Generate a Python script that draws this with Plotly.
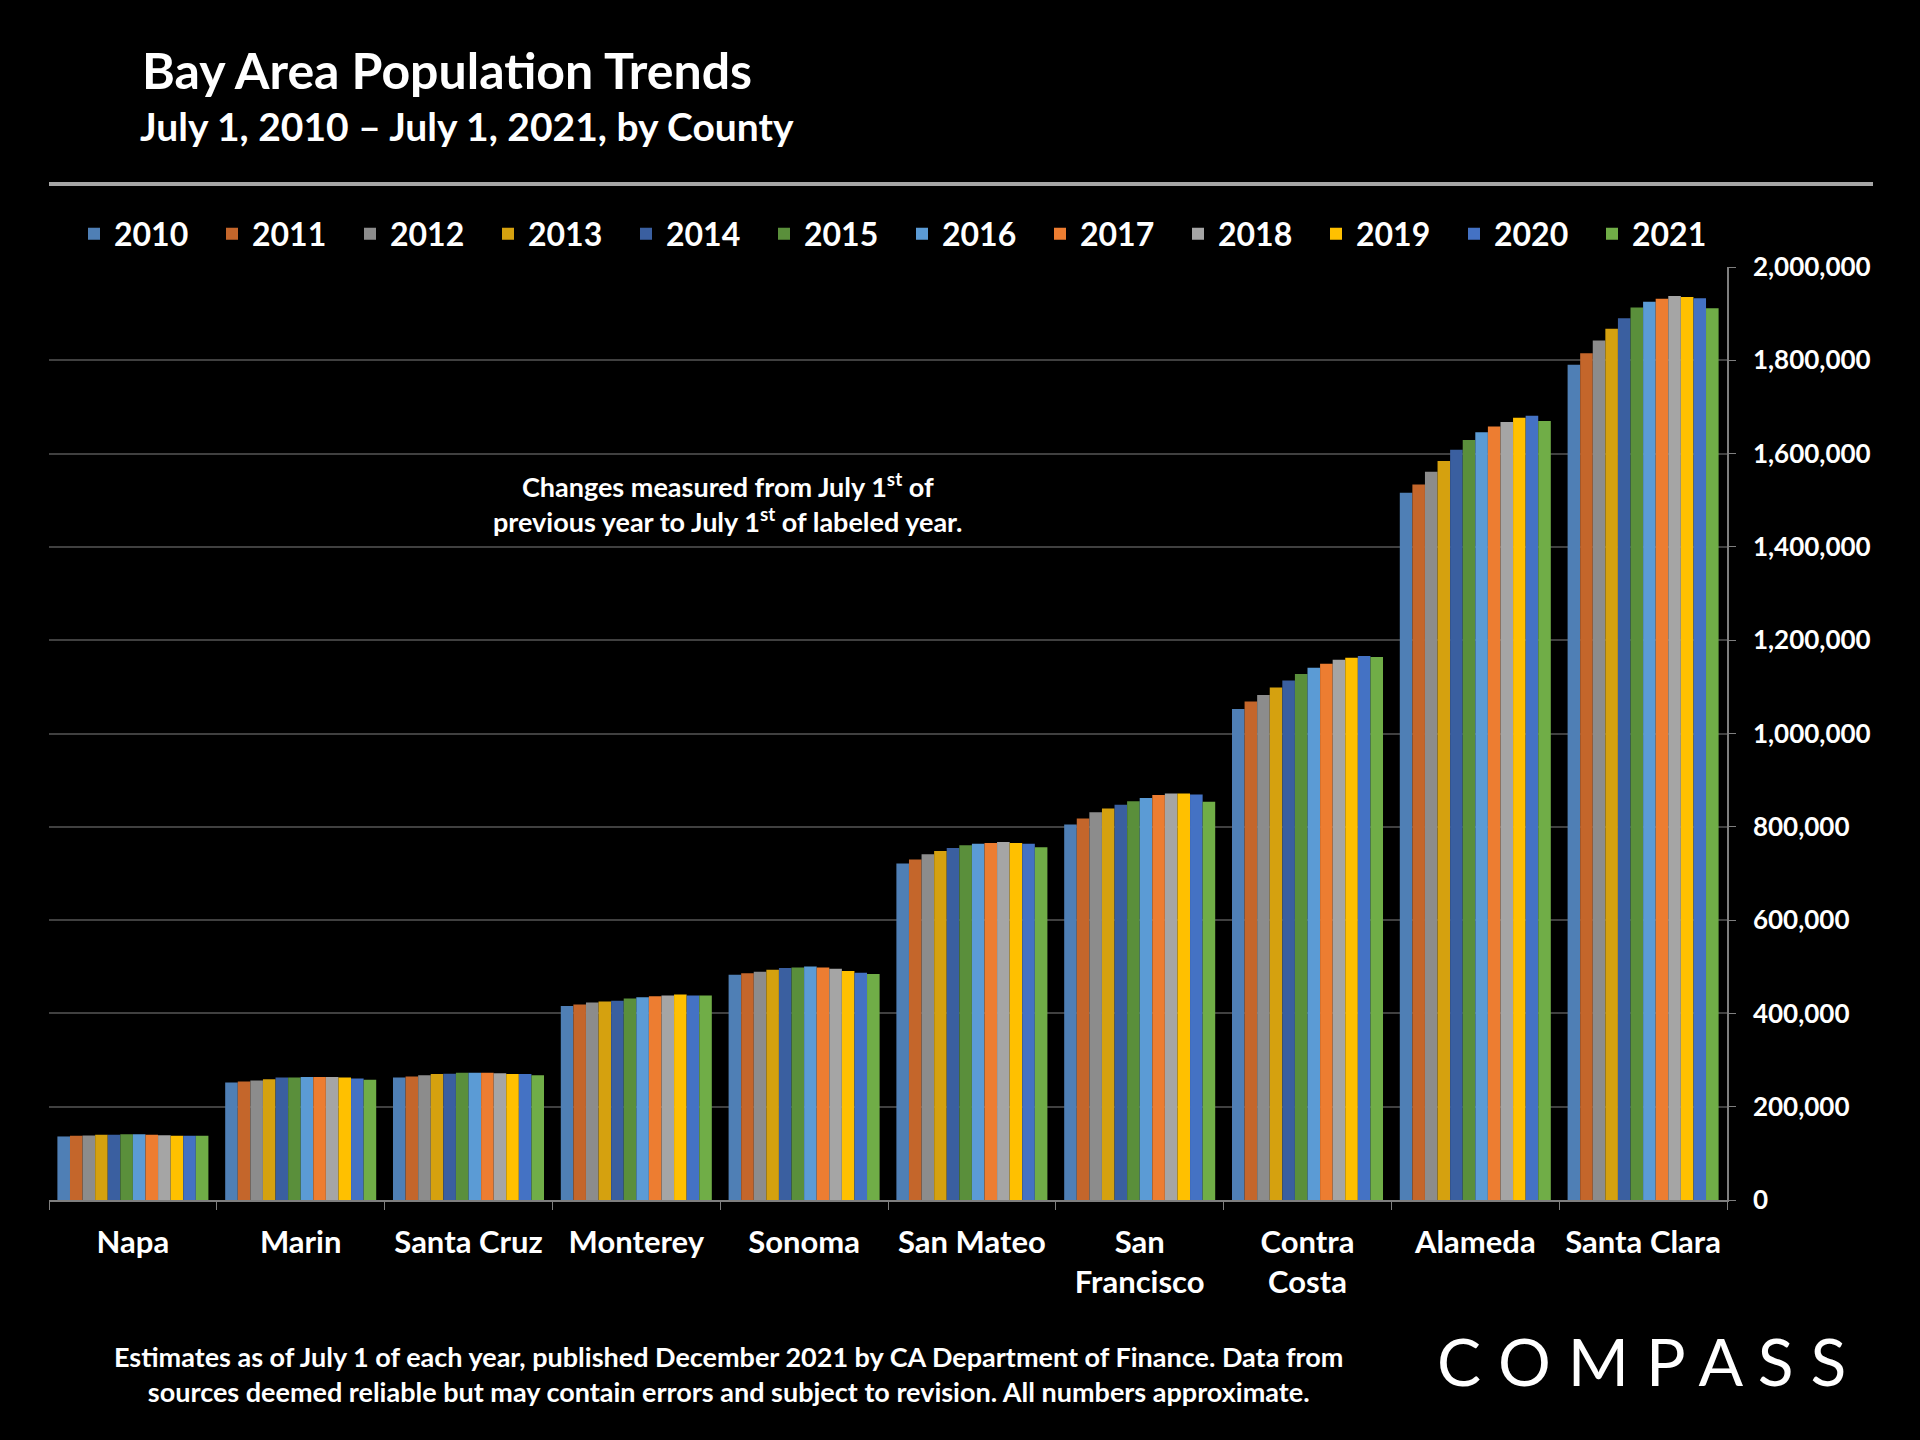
import plotly.graph_objects as go

counties = ["Napa", "Marin", "Santa Cruz", "Monterey", "Sonoma", "San Mateo",
            "San<br>Francisco", "Contra<br>Costa", "Alameda", "Santa Clara"]
years = ["2010", "2011", "2012", "2013", "2014", "2015",
         "2016", "2017", "2018", "2019", "2020", "2021"]

napa = [136200, 137600, 138300, 139700, 139700, 141000, 141000, 139700, 139000, 137600, 137600, 137600]
marin = [251800, 254000, 256000, 258800, 262400, 262400, 263800, 263800, 263800, 262400, 260200, 258000]
santa_cruz = [262400, 264500, 267300, 270000, 270800, 273000, 273000, 273000, 271600, 270000, 270000, 267300]
monterey = [415600, 419100, 423400, 425500, 426900, 431900, 434700, 436900, 438300, 440400, 438300, 438300]
sonoma = [483000, 485800, 489300, 493600, 497100, 498600, 500700, 498600, 495700, 490800, 487200, 484400]
san_mateo = [721300, 729800, 741200, 748300, 754600, 760300, 763800, 765200, 767400, 765200, 763800, 756000]
san_francisco = [805000, 817700, 831200, 839000, 847500, 854600, 861700, 868000, 871600, 871600, 869500, 853900]
contra_costa = [1052500, 1068800, 1082300, 1098600, 1113500, 1127700, 1141200, 1149600, 1158200, 1162400, 1166000, 1163800]
alameda = [1516000, 1534000, 1561000, 1584000, 1608000, 1629000, 1646000, 1658000, 1668000, 1677000, 1681000, 1670000]
santa_clara = [1790700, 1815000, 1842700, 1867600, 1890400, 1913200, 1925300, 1931700, 1938000, 1935900, 1933000, 1911700]

by_county = [napa, marin, santa_cruz, monterey, sonoma, san_mateo,
             san_francisco, contra_costa, alameda, santa_clara]

colors = ["#4F7FB5", "#C4662B", "#8C8C8C", "#D5A10F", "#3A5FA0", "#5A8F3B",
          "#5B9BD5", "#ED7D31", "#A5A5A5", "#FFC000", "#4472C4", "#70AD47"]

FONT = "Lato"
W, H = 1920, 1440
L, R, T, B = 49, 1727, 267, 1200


def px_x(x):
    return (x - L) / (R - L)


def px_y(y):
    return (B - y) / (B - T)


fig = go.Figure()
for i, yr in enumerate(years):
    fig.add_trace(go.Bar(
        name=yr,
        x=counties,
        y=[c[i] for c in by_county],
        marker=dict(color=colors[i], line=dict(width=0)),
    ))

fig.update_layout(
    width=W, height=H,
    paper_bgcolor="#000000", plot_bgcolor="#000000",
    margin=dict(l=L, r=W - R, t=T, b=H - B),
    barmode="group", bargap=0.1, bargroupgap=0,
    font=dict(family=FONT, color="#FFFFFF"),
    showlegend=True,
    legend=dict(
        orientation="h", x=px_x(74), xanchor="left", y=px_y(234), yanchor="middle",
        font=dict(family=FONT, size=32, color="#FFFFFF", weight="bold"),
        entrywidth=93, entrywidthmode="pixels", traceorder="normal",
        bgcolor="rgba(0,0,0,0)",
    ),
    xaxis=dict(
        type="category", tickson="boundaries", ticks="outside", ticklen=8,
        tickcolor="#7F7F7F", showline=True, linecolor="#7F7F7F", linewidth=1.5,
        showgrid=False, tickfont=dict(family=FONT, size=31, color="#FFFFFF", weight="bold"),
        tickangle=0, ticklabelstandoff=14,
    ),
    yaxis=dict(
        side="right", range=[0, 2000000], dtick=200000, tickformat=",",
        showgrid=True, gridcolor="#404040", gridwidth=1.5,
        showline=True, linecolor="#7F7F7F", linewidth=1.5,
        ticks="outside", ticklen=7, tickcolor="#7F7F7F",
        tickfont=dict(family=FONT, size=26, color="#FFFFFF", weight="bold"),
        zeroline=False, ticklabelstandoff=12,
    ),
)

annotations = [
    dict(text="Bay Area Population Trends", x=px_x(140), y=px_y(70),
         font=dict(size=50, weight="bold")),
    dict(text="July 1, 2010 \u2013 July 1, 2021, by County", x=px_x(138), y=px_y(126),
         font=dict(size=39, weight="bold")),
    dict(text="Changes measured from July 1<sup>st</sup> of<br>previous year to July 1<sup>st</sup> of labeled year.",
         x=px_x(728), y=px_y(503), xanchor="center", align="center",
         font=dict(size=27, weight="bold")),
    dict(text="Estimates as of July 1 of each year, published December 2021 by CA Department of Finance. Data from<br>"
              "sources deemed reliable but may contain errors and subject to revision. All numbers approximate.",
         x=px_x(728), y=px_y(1374), xanchor="center", align="center",
         font=dict(size=27, weight="bold")),
    dict(text="C O M P A S S", x=px_x(1641), y=px_y(1360), xanchor="center",
         font=dict(family="Lato", size=66, weight=400)),
]
for a in annotations:
    a.setdefault("xanchor", "left")
    a.update(xref="paper", yref="paper", yanchor="middle", showarrow=False)
    a["font"].setdefault("family", FONT)
    a["font"].setdefault("color", "#FFFFFF")
    fig.add_annotation(**a)

fig.add_shape(type="line", xref="paper", yref="paper",
              x0=px_x(49), x1=px_x(1873), y0=px_y(184), y1=px_y(184),
              line=dict(color="#A6A6A6", width=4))

fig.write_html(
    "out.html",
    config={"displayModeBar": False},
    post_script="document.body.style.margin='0';document.body.style.background='#000';",
)
